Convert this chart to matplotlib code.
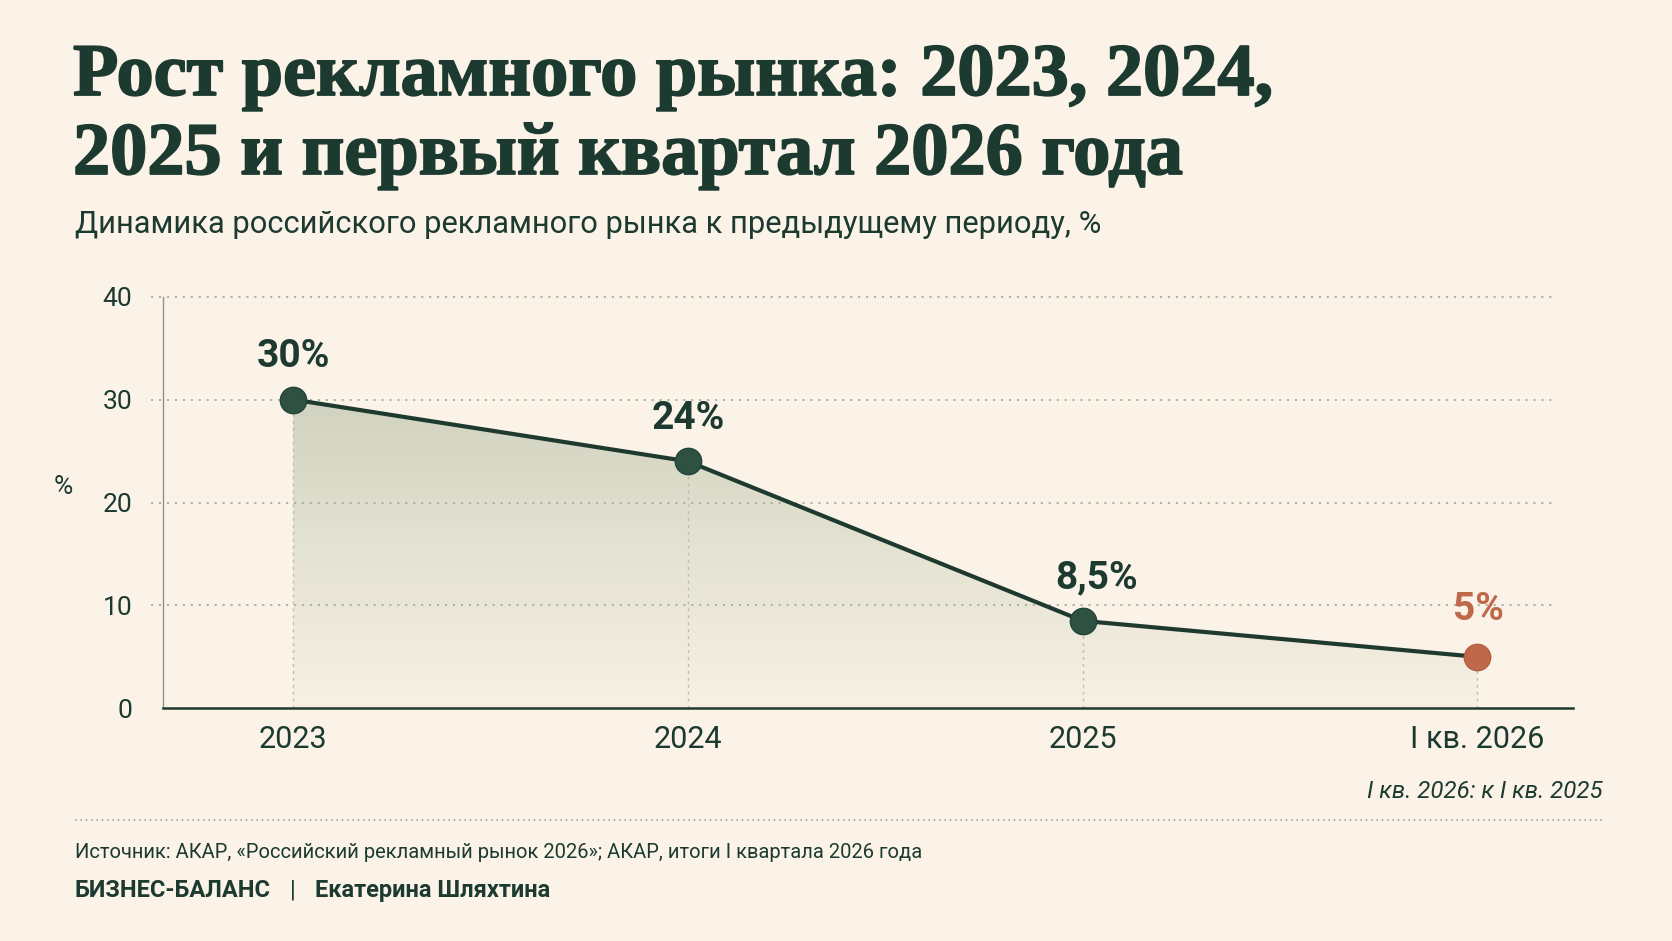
import numpy as np
import matplotlib
matplotlib.use("Agg")
import matplotlib.pyplot as plt
import matplotlib.patheffects as pe
from matplotlib.colors import LinearSegmentedColormap
from matplotlib.lines import Line2D

# ---- data ----
categories = ["2023", "2024", "2025", "I кв. 2026"]
values = [30, 24, 8.5, 5]
value_labels = ["30%", "24%", "8,5%", "5%"]
yticks = [0, 10, 20, 30, 40]
ytick_labels = ["0", "10", "20", "30", "40"]

title = "Рост рекламного рынка: 2023, 2024,\n2025 и первый квартал 2026 года"
subtitle = "Динамика российского рекламного рынка к предыдущему периоду, %"
note = "I кв. 2026: к I кв. 2025"
source = "Источник: АКАР, «Российский рекламный рынок 2026»; АКАР, итоги I квартала 2026 года"
brand = "БИЗНЕС-БАЛАНС"
author = "Екатерина Шляхтина"

# ---- style ----
BG = "#FBF3E8"
DARK = "#1C3A30"
LINE = "#1E3A2F"
MARK = "#2E5142"
ORANGE = "#C0694A"
GRID = "#A8AE9F"
SANS = ["Roboto", "DejaVu Sans"]
SERIF = ["Liberation Serif", "DejaVu Serif"]

W, H = 1672, 941
fig = plt.figure(figsize=(W / 100, H / 100), dpi=100, facecolor=BG)

def fx(px):
    return px / W

def fy(py):
    return 1 - py / H

# axes placement (pixels)
ax_left, ax_right, ax_top, ax_bottom = 163, 1573, 296.7, 708.3
ax = fig.add_axes([fx(ax_left), fy(ax_bottom), fx(ax_right - ax_left), (ax_bottom - ax_top) / H])
ax.set_facecolor("none")

x = np.arange(len(categories))
x0, step = 293.2, 394.7
xlim = ((ax_left - x0) / step, (ax_right - x0) / step)

# gradient fill under line
fill = ax.fill_between(x, values, 0, color="none", lw=0)
cmap = LinearSegmentedColormap.from_list("g", ["#F8F0E4", "#E5E3D3", "#D1D2BF"])
grad = np.linspace(0, 1, 256).reshape(-1, 1)
im = ax.imshow(grad, extent=[x[0], x[-1], 0, max(values)], origin="lower",
               aspect="auto", cmap=cmap, zorder=1)
im.set_clip_path(fill.get_paths()[0], transform=ax.transData)
ax.set_xlim(*xlim)
ax.set_ylim(0, 40)

# gridlines
grid_end = (1553 - ax_left) / (ax_right - ax_left)
grid_start = (151 - ax_left) / (ax_right - ax_left)
for t in yticks[1:]:
    ax.axhline(t, xmin=grid_start, xmax=grid_end, color=GRID, lw=1.3,
               ls=(0, (1.2, 3.2)), zorder=2, clip_on=False)

# vertical dotted guides
for xi, v in zip(x, values):
    ax.plot([xi, xi], [0, v], color="#BDBDAE", lw=1.0, ls=(0, (2, 3)), zorder=2)

# line + markers
ax.plot(x, values, color=LINE, lw=3.0, zorder=4, solid_capstyle="round")
ax.plot(x[:-1], values[:-1], "o", ms=19, mfc=MARK, mec="#24453A", mew=1.0, zorder=5)
ax.plot(x[-1:], values[-1:], "o", ms=19, mfc=ORANGE, mec="#B55F42", mew=1.0, zorder=5)

# value labels
offsets = [(0, 31), (0, 31), (10, 31), (1, 34)]
for i, (xi, v, lab) in enumerate(zip(x, values, value_labels)):
    col = ORANGE if i == len(values) - 1 else DARK
    ax.annotate(lab, (xi, v), xytext=offsets[i], textcoords="offset points",
                ha="center", va="center", fontsize=28, fontweight="bold",
                color=col, family=SANS, zorder=6)

# spines / ticks
for s in ["top", "right"]:
    ax.spines[s].set_visible(False)
ax.spines["left"].set_color("#8E948A")
ax.spines["left"].set_linewidth(1.0)
ax.spines["bottom"].set_color(LINE)
ax.spines["bottom"].set_linewidth(1.8)
ax.set_yticks(yticks)
ax.set_yticklabels(ytick_labels, family=SANS, fontsize=19, color=DARK)
ax.set_xticks(x)
ax.set_xticklabels(categories, family=SANS, fontsize=22, color=DARK)
ax.tick_params(axis="y", length=0, pad=22)
ax.tick_params(axis="x", length=0, pad=12)

# % label
fig.text(fx(63), fy(487), "%", ha="center", va="center", fontsize=19,
         color=DARK, family=SANS)

# title & subtitle
lines = title.split("\n")
stroke = [pe.withStroke(linewidth=1.3, foreground=DARK)]
fig.text(fx(73), fy(95), lines[0], ha="left", va="baseline", fontsize=53.5,
         fontweight="bold", color=DARK, family=SERIF, path_effects=stroke)
fig.text(fx(73), fy(174), lines[1], ha="left", va="baseline", fontsize=53.5,
         fontweight="bold", color=DARK, family=SERIF, path_effects=stroke)
fig.text(fx(75), fy(233.3), subtitle, ha="left", va="baseline", fontsize=22.2,
         color=DARK, family=SANS)

# note
fig.text(fx(1603), fy(798), note, ha="right", va="baseline", fontsize=17.3,
         style="italic", color=DARK, family=SANS)

# separator
fig.add_artist(Line2D([fx(75), fx(1603)], [fy(820), fy(820)], color="#9EA398",
                      lw=1.2, ls=(0, (1, 2.2))))

# footer
fig.text(fx(75), fy(858.3), source, ha="left", va="baseline", fontsize=14.5,
         color=DARK, family=SANS)
fig.text(fx(75), fy(896.7), brand, ha="left", va="baseline", fontsize=17,
         fontweight="bold", color=DARK, family=SANS)
fig.text(fx(293), fy(896.7), "|", ha="center", va="baseline", fontsize=17,
         color=DARK, family=SANS)
fig.text(fx(315), fy(896.7), author, ha="left", va="baseline", fontsize=17,
         fontweight="bold", color=DARK, family=SANS)

fig.savefig("out.png", dpi=100, facecolor=BG)
